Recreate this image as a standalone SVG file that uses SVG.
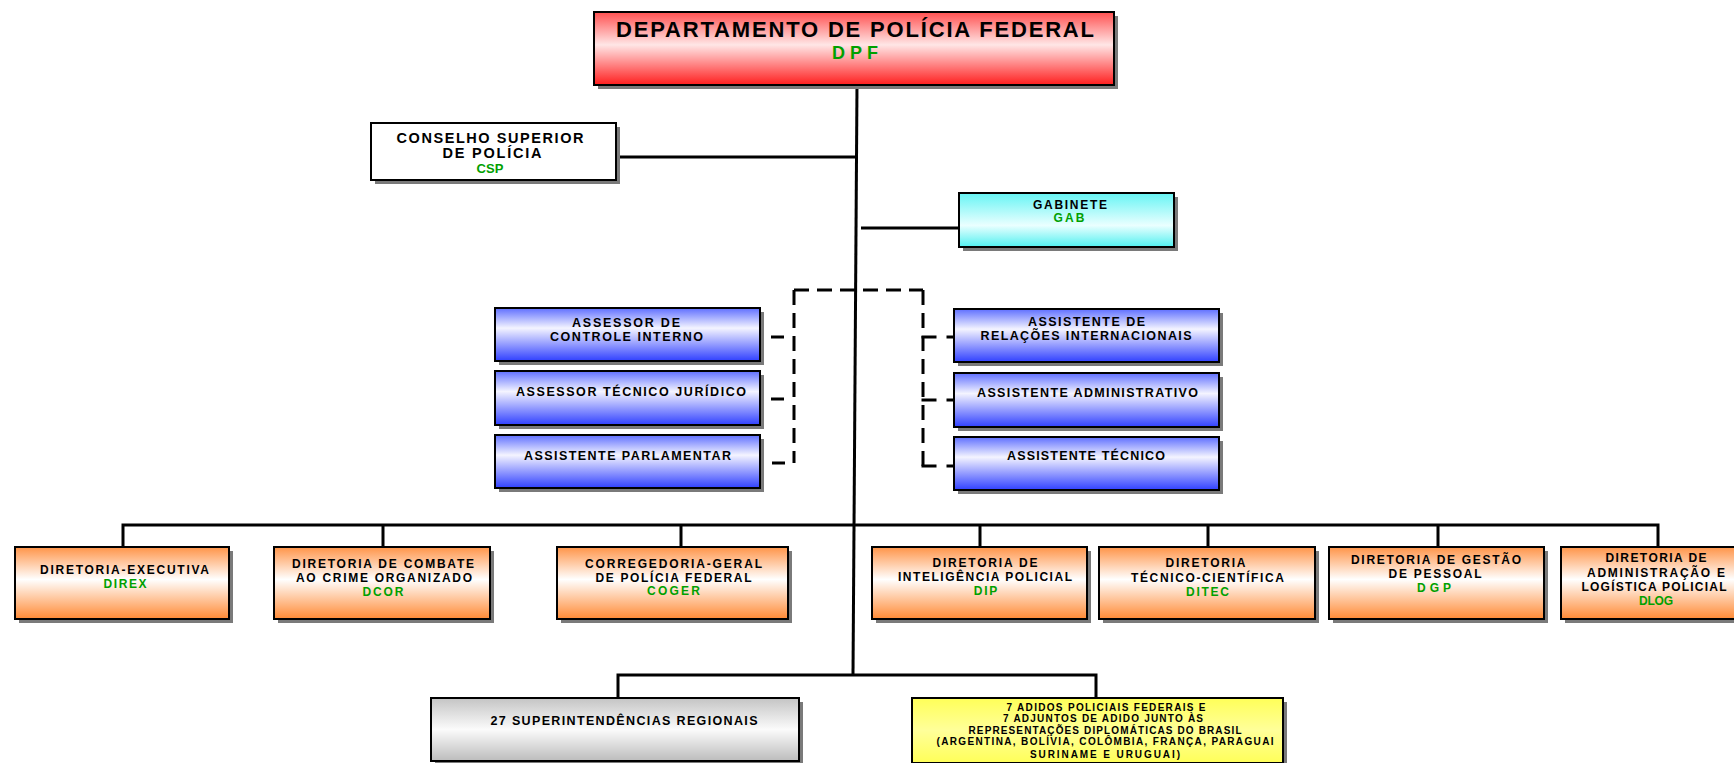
<svg xmlns="http://www.w3.org/2000/svg" width="1734" height="763" viewBox="0 0 1734 763">
<style>
.bx{stroke:#000;stroke-width:2}
.sh{fill:#7a7a7a}
.t{font-family:"Liberation Sans",Arial,Helvetica,sans-serif;font-weight:bold;text-anchor:middle;fill:#000}
.g{fill:#00a000}
.ln{stroke:#000;stroke-width:3;fill:none;stroke-linejoin:miter}
.dash{stroke:#000;stroke-width:3;fill:none;stroke-dasharray:15 8}
.stL{stroke:#000;stroke-width:3;fill:none;stroke-dasharray:0 10 13 40}
.stR{stroke:#000;stroke-width:3;fill:none;stroke-dasharray:15 10}
.b10{font-size:12.5px}
.o{font-size:12px}
.y9{font-size:10px}
</style>
<defs>
<linearGradient id="gRed" x1="0" y1="0" x2="0" y2="1"><stop offset="0" stop-color="#ff5050"/><stop offset="0.45" stop-color="#ffe6e6"/><stop offset="1" stop-color="#ff1e1e"/></linearGradient>
<linearGradient id="gCyan" x1="0" y1="0" x2="0" y2="1"><stop offset="0" stop-color="#66f4f4"/><stop offset="0.6" stop-color="#eaffff"/><stop offset="1" stop-color="#50f0f0"/></linearGradient>
<linearGradient id="gBlue" x1="0" y1="0" x2="0" y2="1"><stop offset="0" stop-color="#5f6fff"/><stop offset="0.38" stop-color="#f4f4ff"/><stop offset="1" stop-color="#3040ff"/></linearGradient>
<linearGradient id="gOr" x1="0" y1="0" x2="0" y2="1"><stop offset="0" stop-color="#ff9448"/><stop offset="0.45" stop-color="#ffffff"/><stop offset="1" stop-color="#ff8a35"/></linearGradient>
<linearGradient id="gGray" x1="0" y1="0" x2="0" y2="1"><stop offset="0" stop-color="#c4c4c4"/><stop offset="0.5" stop-color="#fbfbfb"/><stop offset="1" stop-color="#bcbcbc"/></linearGradient>
<linearGradient id="gYel" x1="0" y1="0" x2="0" y2="1"><stop offset="0" stop-color="#ffff58"/><stop offset="0.5" stop-color="#ffff9a"/><stop offset="1" stop-color="#ffff58"/></linearGradient>
</defs>
<rect width="1734" height="763" fill="#fff"/>

<g id="connectors">
<path class="ln" d="M857 85 L853 675"/>
<path class="ln" d="M616 157 H856"/>
<path class="ln" d="M861 228 H959"/>
<path class="ln" d="M123 547 V525 H1658 V547 M383 525 V547 M681 525 V547 M980 525 V547 M1208 525 V547 M1438 525 V547"/>
<path class="ln" d="M618 698 V675 H1096 V698"/>
<path class="dash" d="M794 290 H923"/>
<path class="dash" d="M794 290 V463"/>
<path class="dash" d="M923 290 V466"/>
<path class="stL" d="M794 337 H760"/>
<path class="stL" d="M794 399 H760"/>
<path class="stL" d="M795 463 H760"/>
<path class="stR" d="M921.5 337 H954"/>
<path class="stR" d="M921.5 400 H954"/>
<path class="stR" d="M921.5 466 H954"/>
</g>

<g id="dpf">
<rect class="sh" x="598" y="16" width="520" height="73"/>
<rect class="bx" x="594" y="12" width="520" height="73" fill="url(#gRed)"/>
<text class="t" x="855" y="37" font-size="22" textLength="478" lengthAdjust="spacing">DEPARTAMENTO DE POLÍCIA FEDERAL</text>
<text class="t g" x="855" y="59" font-size="18" textLength="46" lengthAdjust="spacing">DPF</text>
</g>

<g id="csp">
<rect class="sh" x="375" y="127" width="245" height="57"/>
<rect class="bx" x="371" y="123" width="245" height="57" fill="#fff"/>
<text class="t" x="490" y="143" font-size="14.5" textLength="187" lengthAdjust="spacing">CONSELHO SUPERIOR</text>
<text class="t" x="492" y="158" font-size="14.5" textLength="99" lengthAdjust="spacing">DE POLÍCIA</text>
<text class="t g" x="490" y="173" font-size="13" textLength="27" lengthAdjust="spacing">CSP</text>
</g>

<g id="gab">
<rect class="sh" x="963" y="197" width="215" height="54"/>
<rect class="bx" x="959" y="193" width="215" height="54" fill="url(#gCyan)"/>
<text class="t" x="1070" y="209" font-size="12" textLength="74" lengthAdjust="spacing">GABINETE</text>
<text class="t g" x="1069" y="222" font-size="12" textLength="31" lengthAdjust="spacing">GAB</text>
</g>

<g id="aci">
<rect class="sh" x="499" y="312" width="265" height="53"/>
<rect class="bx" x="495" y="308" width="265" height="53" fill="url(#gBlue)"/>
<text class="t b10" x="626" y="327" textLength="108" lengthAdjust="spacing">ASSESSOR DE</text>
<text class="t b10" x="626.5" y="341" textLength="153" lengthAdjust="spacing">CONTROLE INTERNO</text>
</g>
<g id="atj">
<rect class="sh" x="499" y="375" width="265" height="54"/>
<rect class="bx" x="495" y="371" width="265" height="54" fill="url(#gBlue)"/>
<text class="t b10" x="631" y="396" textLength="230" lengthAdjust="spacing">ASSESSOR TÉCNICO JURÍDICO</text>
</g>
<g id="apar">
<rect class="sh" x="499" y="439" width="265" height="53"/>
<rect class="bx" x="495" y="435" width="265" height="53" fill="url(#gBlue)"/>
<text class="t b10" x="627.5" y="460" textLength="207" lengthAdjust="spacing">ASSISTENTE PARLAMENTAR</text>
</g>
<g id="ari">
<rect class="sh" x="958" y="313" width="265" height="53"/>
<rect class="bx" x="954" y="309" width="265" height="53" fill="url(#gBlue)"/>
<text class="t b10" x="1086.5" y="326" textLength="117" lengthAdjust="spacing">ASSISTENTE DE</text>
<text class="t b10" x="1086" y="340" textLength="211" lengthAdjust="spacing">RELAÇÕES INTERNACIONAIS</text>
</g>
<g id="aadm">
<rect class="sh" x="958" y="377" width="265" height="54"/>
<rect class="bx" x="954" y="373" width="265" height="54" fill="url(#gBlue)"/>
<text class="t b10" x="1087.5" y="397" textLength="221" lengthAdjust="spacing">ASSISTENTE ADMINISTRATIVO</text>
</g>
<g id="atec">
<rect class="sh" x="958" y="441" width="265" height="53"/>
<rect class="bx" x="954" y="437" width="265" height="53" fill="url(#gBlue)"/>
<text class="t b10" x="1086" y="460" textLength="158" lengthAdjust="spacing">ASSISTENTE TÉCNICO</text>
</g>

<g id="direx">
<rect class="sh" x="19" y="551" width="214" height="72"/>
<rect class="bx" x="15" y="547" width="214" height="72" fill="url(#gOr)"/>
<text class="t o" x="124.5" y="574" textLength="169" lengthAdjust="spacing">DIRETORIA-EXECUTIVA</text>
<text class="t o g" x="125" y="588" textLength="43" lengthAdjust="spacing">DIREX</text>
</g>
<g id="dcor">
<rect class="sh" x="278" y="551" width="216" height="72"/>
<rect class="bx" x="274" y="547" width="216" height="72" fill="url(#gOr)"/>
<text class="t o" x="383" y="568" textLength="182" lengthAdjust="spacing">DIRETORIA DE COMBATE</text>
<text class="t o" x="384" y="582" textLength="176" lengthAdjust="spacing">AO CRIME ORGANIZADO</text>
<text class="t o g" x="383" y="596" textLength="41" lengthAdjust="spacing">DCOR</text>
</g>
<g id="coger">
<rect class="sh" x="561" y="551" width="231" height="72"/>
<rect class="bx" x="557" y="547" width="231" height="72" fill="url(#gOr)"/>
<text class="t o" x="673.5" y="568" textLength="177" lengthAdjust="spacing">CORREGEDORIA-GERAL</text>
<text class="t o" x="673.5" y="582" textLength="156" lengthAdjust="spacing">DE POLÍCIA FEDERAL</text>
<text class="t o g" x="673.5" y="595" textLength="53" lengthAdjust="spacing">COGER</text>
</g>
<g id="dip">
<rect class="sh" x="876" y="551" width="215" height="72"/>
<rect class="bx" x="872" y="547" width="215" height="72" fill="url(#gOr)"/>
<text class="t o" x="985" y="567" textLength="105" lengthAdjust="spacing">DIRETORIA DE</text>
<text class="t o" x="985" y="581" textLength="174" lengthAdjust="spacing">INTELIGÊNCIA POLICIAL</text>
<text class="t o g" x="985.5" y="595" textLength="23.5" lengthAdjust="spacing">DIP</text>
</g>
<g id="ditec">
<rect class="sh" x="1103" y="551" width="216" height="72"/>
<rect class="bx" x="1099" y="547" width="216" height="72" fill="url(#gOr)"/>
<text class="t o" x="1205.5" y="567" textLength="80" lengthAdjust="spacing">DIRETORIA</text>
<text class="t o" x="1207.5" y="582" textLength="153" lengthAdjust="spacing">TÉCNICO-CIENTÍFICA</text>
<text class="t o g" x="1207.5" y="595.5" textLength="43" lengthAdjust="spacing">DITEC</text>
</g>
<g id="dgp">
<rect class="sh" x="1333" y="551" width="215" height="72"/>
<rect class="bx" x="1329" y="547" width="215" height="72" fill="url(#gOr)"/>
<text class="t o" x="1436" y="564" textLength="170" lengthAdjust="spacing">DIRETORIA DE GESTÃO</text>
<text class="t o" x="1435" y="578" textLength="93" lengthAdjust="spacing">DE PESSOAL</text>
<text class="t o g" x="1434" y="591.5" textLength="34" lengthAdjust="spacing">DGP</text>
</g>
<g id="dlog">
<rect class="sh" x="1565" y="551" width="200" height="72"/>
<rect class="bx" x="1561" y="547" width="200" height="72" fill="url(#gOr)"/>
<text class="t o" x="1656" y="562" textLength="101" lengthAdjust="spacing">DIRETORIA DE</text>
<text class="t o" x="1656" y="577" textLength="138" lengthAdjust="spacing">ADMINISTRAÇÃO E</text>
<text class="t o" x="1654" y="591" textLength="145" lengthAdjust="spacing">LOGÍSTICA POLICIAL</text>
<text class="t o g" x="1656" y="604.5" textLength="34" lengthAdjust="spacing">DLOG</text>
</g>

<g id="sr">
<rect class="sh" x="435" y="702" width="368" height="63"/>
<rect class="bx" x="431" y="698" width="368" height="63" fill="url(#gGray)"/>
<text class="t" x="624" y="725" font-size="12.5" textLength="267" lengthAdjust="spacing">27 SUPERINTENDÊNCIAS REGIONAIS</text>
</g>

<g id="adidos">
<rect class="sh" x="916" y="702" width="371" height="65"/>
<rect class="bx" x="912" y="698" width="371" height="65" fill="url(#gYel)"/>
<text class="t y9" x="1106" y="711" textLength="199" lengthAdjust="spacing">7 ADIDOS POLICIAIS FEDERAIS E</text>
<text class="t y9" x="1103" y="722" textLength="200" lengthAdjust="spacing">7 ADJUNTOS DE ADIDO JUNTO ÀS</text>
<text class="t y9" x="1105" y="733.5" textLength="273" lengthAdjust="spacing">REPRESENTAÇÕES DIPLOMÁTICAS DO BRASIL</text>
<text class="t y9" x="1105" y="745" textLength="337" lengthAdjust="spacing">(ARGENTINA, BOLÍVIA, COLÔMBIA, FRANÇA, PARAGUAI</text>
<text class="t y9" x="1105" y="757.5" textLength="150" lengthAdjust="spacing">SURINAME E URUGUAI)</text>
</g>
</svg>
